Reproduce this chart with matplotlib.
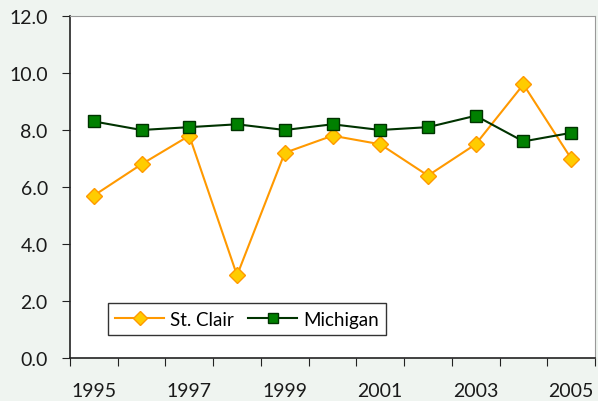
import matplotlib
matplotlib.use("Agg")
import matplotlib.pyplot as plt
import numpy as np

plt.rcParams['font.family'] = ['Lato', 'DejaVu Sans']

years = [1995, 1996, 1997, 1998, 1999, 2000, 2001, 2002, 2003, 2004, 2005]
st_clair = [5.7, 6.8, 7.8, 2.9, 7.2, 7.8, 7.5, 6.4, 7.5, 9.6, 7.0]
michigan = [8.3, 8.0, 8.1, 8.2, 8.0, 8.2, 8.0, 8.1, 8.5, 7.6, 7.9]

bg = '#eff4f0'
fig = plt.figure(figsize=(5.98, 4.02), dpi=100, facecolor=bg)
ax = fig.add_axes([70/598, 43/402, 525/598, 342/402])
ax.set_facecolor('white')

x = np.arange(len(years))
ax.plot(x, st_clair, color='#ff9900', lw=1.5, marker='D', ms=8,
        mfc='#ffcc00', mec='#ff9900', mew=1, label='St. Clair')
ax.plot(x, michigan, color='#003300', lw=1.5, marker='s', ms=9,
        mfc='#008000', mec='#003300', mew=1, label='Michigan')

ax.set_xlim(-0.5, len(years) - 0.5)
ax.set_ylim(0, 12)
ax.set_yticks(np.arange(0, 12.1, 2))
ax.set_yticklabels([f"{v:.1f}" for v in np.arange(0, 12.1, 2)])
ax.set_xticks(np.arange(-0.5, len(years), 1))
ax.set_xticklabels([])
ax.set_xticks(x[::2], minor=True)
ax.set_xticklabels([str(y) for y in years[::2]], minor=True)
ax.tick_params(axis='x', which='major', direction='out', length=6, color='#222222')
ax.tick_params(axis='x', which='minor', length=0, pad=17, labelsize=14)
ax.tick_params(axis='y', direction='out', length=6, color='#222222', labelsize=14, pad=10)
for lab in ax.get_xticklabels(minor=True) + ax.get_yticklabels():
    lab.set_color('#1a1a1a')

for s in ['top', 'right']:
    ax.spines[s].set_color('#999999')
for s in ['left', 'bottom']:
    ax.spines[s].set_color('#222222')
    ax.spines[s].set_linewidth(1.2)

leg = ax.legend(loc='lower left', bbox_to_anchor=(0.072, 0.067), borderaxespad=0,
                ncol=2, frameon=True, fancybox=False, fontsize=13.5,
                handlelength=2.6, handletextpad=0.3, columnspacing=0.8,
                borderpad=0.4, markerscale=0.85)
leg.get_frame().set_edgecolor('black')
leg.get_frame().set_linewidth(1)

fig.savefig('out.png', dpi=100, facecolor=bg)
